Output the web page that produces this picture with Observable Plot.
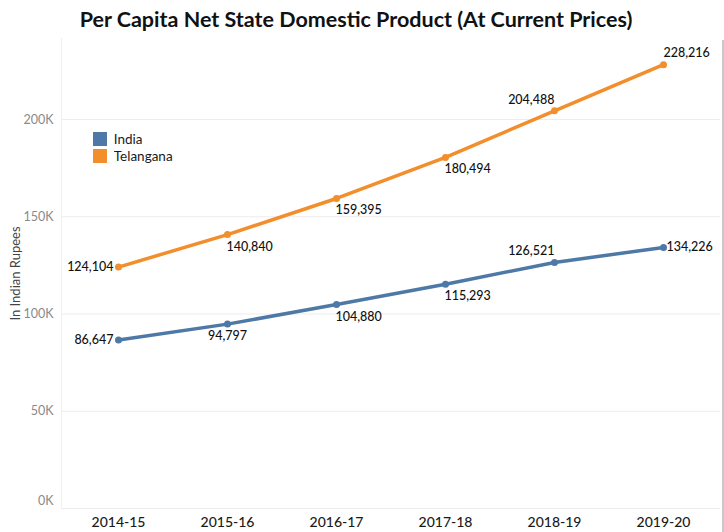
<!DOCTYPE html>
<html>
<head>
<meta charset="utf-8">
<script src="https://cdn.jsdelivr.net/npm/d3@7"></script>
<script src="https://cdn.jsdelivr.net/npm/@observablehq/plot@0.6"></script>
<style>
  html, body { margin: 0; padding: 0; background: #fff; }
  #wrap { position: relative; width: 724px; height: 532px; overflow: hidden; }
  #title { height: 38px; line-height: 38px; text-align: center; padding-right: 12px;
    font-family: Lato, sans-serif; font-weight: 700; font-size: 21.5px; color: #111; }
  #legend { position: absolute; left: 93px; top: 131px; }
  #legend, #legend * { font-family: Lato, sans-serif !important; font-size: 13.5px !important; color: #1a1a1a !important; }
  #edge { position: absolute; left: 722px; top: 40px; width: 2px; height: 492px; background: #c8c8c8; }
</style>
</head>
<body>
<div id="wrap">
  <div id="title">Per Capita Net State Domestic Product (At Current Prices)</div>
  <div id="chart"></div>
  <div id="legend"></div>
  <div id="edge"></div>
</div>
<script>
const categories = ["2014-15", "2015-16", "2016-17", "2017-18", "2018-19", "2019-20"];
const seriesNames = ["India", "Telangana"];
const indiaValues = [86647, 94797, 104880, 115293, 126521, 134226];
const telanganaValues = [124104, 140840, 159395, 180494, 204488, 228216];
const yTicks = [0, 50000, 100000, 150000, 200000];
const colors = ["#4e79a7", "#f28e2b"];
// label placement relative to each point (compass direction)
const indiaLabelPlace = ["w", "s", "se", "se", "nw", "e"];
const telanganaLabelPlace = ["w", "se", "se", "se", "nw", "ne"];

const rows = [];
categories.forEach((c, i) => {
  rows.push({year: c, series: "India", value: indiaValues[i], place: indiaLabelPlace[i]});
  rows.push({year: c, series: "Telangana", value: telanganaValues[i], place: telanganaLabelPlace[i]});
});

const fmt = d3.format(",");
const labelStyle = {
  w:  {textAnchor: "end", dx: -5, dy: 0},
  e:  {textAnchor: "start", dx: 3, dy: 0},
  s:  {textAnchor: "middle", dx: 0, dy: 12},
  se: {textAnchor: "start", dx: -1, dy: 12},
  nw: {textAnchor: "end", dx: 0, dy: -11},
  ne: {textAnchor: "start", dx: 0, dy: -12}
};
const labelMarks = Object.entries(labelStyle).map(([k, s]) =>
  Plot.text(rows.filter(r => r.place === k), {
    x: "year", y: "value", text: d => fmt(d.value),
    textAnchor: s.textAnchor, dx: s.dx, dy: s.dy,
    fill: "#111", fontSize: 12.5, fontWeight: 500, fontFamily: "Lato, sans-serif"
  })
);

const yFmt = d => (d / 1000) + "K";
const plot = Plot.plot({
  width: 724,
  height: 494,
  marginLeft: 61,
  marginRight: 4,
  marginTop: 0,
  marginBottom: 24,
  style: {fontFamily: "Lato, sans-serif", background: "#fff", overflow: "visible"},
  x: {type: "point", domain: categories, padding: 0.5, label: null},
  y: {domain: [0, 241650], ticks: yTicks, label: null},
  color: {domain: seriesNames, range: colors},
  marks: [
    Plot.gridY(yTicks, {stroke: "#ececec", strokeOpacity: 1}),
    Plot.frame({anchor: "left", stroke: "#f0f0f0"}),
    Plot.axisY(yTicks.filter(d => d > 0), {tickSize: 0, tickPadding: 8, fontSize: 12.5, fill: "#8a8a8a",
      tickFormat: yFmt,
      label: "In Indian Rupees", labelAnchor: "center", labelArrow: "none", labelOffset: 51}),
    Plot.axisY(yTicks.filter(d => d === 0), {tickSize: 0, tickPadding: 8, fontSize: 12.5, fill: "#8a8a8a",
      tickFormat: yFmt, dy: -8, label: null}),
    Plot.axisX({tickSize: 0, tickPadding: 9, fontSize: 14, fill: "#1a1a1a", fontWeight: 500}),
    Plot.line(rows, {x: "year", y: "value", stroke: "series", strokeWidth: 3.5, curve: "linear"}),
    Plot.dot(rows, {x: "year", y: "value", fill: "series", r: 3.5}),
    ...labelMarks
  ]
});
document.getElementById("chart").appendChild(plot);

// style the y-axis label
const yLabel = plot.querySelector("g[aria-label='y-axis label']");
if (yLabel) {
  yLabel.setAttribute("font-size", 13);
  yLabel.setAttribute("fill", "#444");
  yLabel.querySelectorAll("text").forEach(t => { t.setAttribute("font-size", 13); t.setAttribute("fill", "#444"); });
}

const legend = plot.legend("color", {columns: 1, swatchSize: 14});
document.getElementById("legend").appendChild(legend);
</script>
</body>
</html>
